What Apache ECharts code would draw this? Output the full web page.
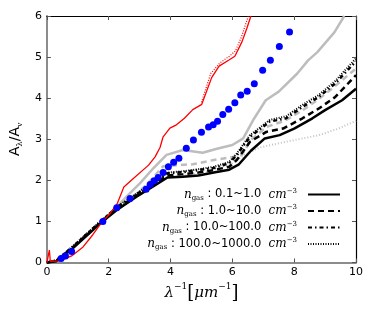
<!DOCTYPE html>
<html><head><meta charset="utf-8">
<script src="https://cdn.jsdelivr.net/npm/echarts@6/dist/echarts.min.js"></script>
<style>html,body{margin:0;padding:0;background:#fff}#c{width:374px;height:312px}</style>
</head><body><div id="c"></div>
<script>
const xTicks = [0, 2, 4, 6, 8, 10];
const yTicks = [0, 1, 2, 3, 4, 5, 6];
const legendNames = ['0.1~1.0', '1.0~10.0', '10.0~100.0', '100.0~1000.0'];

const bluePoints = [[0.46,0.10],[0.60,0.16],[0.80,0.27],[1.81,1.00],[2.26,1.33],[2.69,1.56],[3.21,1.78],[3.34,1.90],[3.47,1.99],[3.60,2.07],[3.76,2.19],[3.93,2.33],[4.10,2.44],[4.27,2.54],[4.51,2.78],[4.74,2.98],[5.00,3.17],[5.23,3.30],[5.38,3.35],[5.52,3.44],[5.69,3.60],[5.88,3.73],[6.08,3.89],[6.27,4.08],[6.48,4.17],[6.71,4.35],[6.98,4.68],[7.23,4.92],[7.52,5.26],[7.85,5.61]];

const redSolid = [[0,0],[0.05,0.02],[0.08,0.30],[0.11,0.03],[0.42,0.04],[0.80,0.16],[1.17,0.38],[1.48,0.67],[1.75,0.95],[2.05,1.20],[2.28,1.44],[2.49,1.84],[2.76,2.02],[3.29,2.37],[3.50,2.57],[3.66,2.80],[3.76,3.06],[3.98,3.27],[4.19,3.35],[4.45,3.51],[4.72,3.72],[5.01,3.85],[5.33,4.50],[5.57,4.78],[5.89,4.93],[6.08,5.02],[6.31,5.37],[6.47,5.70],[6.60,6.0]];
const redDotted = [[5.0,3.9],[5.3,4.6],[5.6,4.86],[5.9,5.02],[6.1,5.15],[6.3,5.5],[6.45,5.85],[6.52,6.0]];

const blackSolid = [[0,0],[0.3,0.03],[0.8,0.32],[1.3,0.66],[1.8,1.0],[2.3,1.3],[2.9,1.6],[3.45,1.86],[3.9,2.07],[4.4,2.09],[4.9,2.12],[5.4,2.19],[5.9,2.26],[6.2,2.38],[6.6,2.72],[7.05,3.02],[7.53,3.10],[8.0,3.26],[8.59,3.51],[9.0,3.71],[9.55,3.95],[10,4.23]];
const blackDashed = [[0,0],[0.3,0.04],[0.8,0.34],[1.3,0.68],[1.8,1.02],[2.3,1.33],[2.9,1.63],[3.45,1.9],[3.9,2.12],[4.4,2.15],[4.9,2.19],[5.4,2.25],[5.9,2.33],[6.15,2.5],[6.57,2.94],[7.1,3.18],[7.64,3.26],[8.27,3.51],[8.8,3.75],[9.33,4.03],[10,4.56]];
const blackDashDot = [[0,0],[0.3,0.05],[0.8,0.36],[1.3,0.7],[1.8,1.04],[2.3,1.36],[2.9,1.66],[3.45,1.94],[3.9,2.17],[4.4,2.2],[4.9,2.25],[5.4,2.3],[5.9,2.42],[6.15,2.62],[6.57,3.06],[7.21,3.43],[7.74,3.51],[8.27,3.79],[8.8,4.03],[9.33,4.36],[10,4.9]];
const blackDotted = [[0,0],[0.3,0.05],[0.8,0.37],[1.3,0.71],[1.8,1.05],[2.3,1.37],[2.9,1.68],[3.45,1.96],[3.9,2.19],[4.4,2.22],[4.9,2.27],[5.4,2.33],[5.9,2.45],[6.15,2.66],[6.57,3.1],[7.21,3.47],[7.74,3.56],[8.27,3.84],[8.8,4.08],[9.33,4.42],[10,4.97]];

const graySolid = [[1.8,1.0],[2.2,1.3],[2.6,1.62],[3.0,1.92],[3.45,2.3],[3.87,2.62],[4.4,2.74],[5.04,2.67],[5.5,2.77],[6.0,2.86],[6.35,3.02],[6.7,3.5],[7.08,3.95],[7.5,4.16],[8.1,4.6],[8.45,4.92],[8.75,5.12],[9.3,5.6],[9.62,6.0]];
const grayDashed = [[1.8,1.0],[2.3,1.32],[2.8,1.6],[3.3,1.95],[3.76,2.34],[4.2,2.37],[4.72,2.39],[5.36,2.49],[6.0,2.57],[6.31,2.62],[6.6,2.98],[7.1,3.3],[7.7,3.45],[8.3,3.72],[8.8,3.98],[9.3,4.28],[10,4.72]];
const grayDotted = [[3.9,2.07],[4.5,2.12],[5.0,2.18],[5.5,2.28],[6.0,2.42],[6.4,2.62],[6.89,2.8],[7.74,2.94],[8.8,3.1],[9.4,3.25],[10,3.45]];

const chart = echarts.init(document.getElementById('c'), null, {renderer: 'canvas'});
const sans = 'DejaVu Sans';
const serif = 'DejaVu Serif';

function lineSeries(name, data, color, width, type, z) {
  return {name: name, type: 'line', data: data, symbol: 'none', smooth: false, z: z,
    lineStyle: {color: color, width: width, type: type}, itemStyle: {color: color}, silent: true, animation: false};
}

const legendRich = {
  n: {fontFamily: serif, fontStyle: 'italic', fontSize: 12, color: '#000', lineHeight: 16, verticalAlign: 'middle'},
  s: {fontFamily: serif, fontSize: 7, color: '#000', lineHeight: 16, verticalAlign: 'bottom', padding: [0,0,1,0]},
  t: {fontFamily: sans, fontSize: 11.5, color: '#000', lineHeight: 16, verticalAlign: 'middle'},
  p: {fontFamily: serif, fontSize: 7, color: '#000', lineHeight: 16, verticalAlign: 'top', padding: [1,0,0,0]}
};
const legendRows = [192.5, 209, 225.5, 242];
const legends = legendNames.map((nm, i) => ({
  data: [nm], right: 28, top: legendRows[i] - 11, orient: 'vertical', align: 'right',
  itemWidth: 32, itemHeight: 16, selectedMode: false,
  itemStyle: {opacity: 0, borderWidth: 0},
  formatter: n => '{n|n}{s|gas}{t| : ' + n + '  }{n|cm}{p|−3}',
  textStyle: {rich: legendRich, padding: [0, 6, 0, 0]}
}));

const option = {
  animation: false,
  grid: {left: 41.7, right: 18, top: 16, bottom: 49.5, containLabel: false},
  legend: legends,
  xAxis: [{
    type: 'value', min: 0, max: 10, interval: 2, position: 'bottom',
    axisLine: {show: true, onZero: false, lineStyle: {color: '#8c8c8c', width: 2}},
    axisTick: {show: true, inside: true, length: 4, lineStyle: {color: '#555'}},
    axisLabel: {color: '#000', fontFamily: sans, fontSize: 11, margin: 4, formatter: v => xTicks.includes(v) ? String(v) : ''},
    splitLine: {show: false},
    name: '{l|λ}{p|−1}{b|[}{m|μm}{p|−1}{b|]}', nameLocation: 'middle', nameGap: 15,
    nameTextStyle: {rich: {
      l: {fontFamily: serif, fontStyle: 'italic', fontSize: 15, color: '#000', lineHeight: 22},
      p: {fontFamily: serif, fontSize: 9, color: '#000', verticalAlign: 'top', lineHeight: 22},
      b: {fontFamily: serif, fontSize: 18, color: '#000', lineHeight: 22},
      m: {fontFamily: serif, fontStyle: 'italic', fontSize: 15, color: '#000', lineHeight: 22}
    }}
  }, {
    type: 'value', min: 0, max: 10, interval: 2, position: 'top',
    axisLine: {show: true, onZero: false, lineStyle: {color: '#000', width: 1.2}},
    axisTick: {show: true, inside: true, length: 4, lineStyle: {color: '#555'}},
    axisLabel: {show: false}, splitLine: {show: false}
  }],
  yAxis: [{
    type: 'value', min: 0, max: 6, interval: 1, position: 'left',
    axisLine: {show: true, onZero: false, lineStyle: {color: '#8c8c8c', width: 2}},
    axisTick: {show: true, inside: true, length: 4, lineStyle: {color: '#555'}},
    axisLabel: {color: '#000', fontFamily: sans, fontSize: 11, margin: 5, formatter: v => yTicks.includes(v) ? String(v) : ''},
    splitLine: {show: false},
    name: '{a|A}{s|λ}{a|/A}{s|v}', nameLocation: 'middle', nameGap: 21, nameRotate: 90,
    nameTextStyle: {rich: {
      a: {fontFamily: sans, fontSize: 14, color: '#000', lineHeight: 18},
      s: {fontFamily: serif, fontSize: 8, color: '#000', verticalAlign: 'bottom', lineHeight: 18}
    }}
  }, {
    type: 'value', min: 0, max: 6, interval: 1, position: 'right',
    axisLine: {show: true, onZero: false, lineStyle: {color: '#000', width: 1.2}},
    axisTick: {show: true, inside: true, length: 4, lineStyle: {color: '#555'}},
    axisLabel: {show: false}, splitLine: {show: false}
  }],
  series: [
    lineSeries('gs', graySolid, '#bdbdbd', 2.5, 'solid', 1),
    lineSeries('gd', grayDashed, '#bdbdbd', 2.5, [6, 4], 1),
    lineSeries('gdot', grayDotted, '#c4c4c4', 2, [1, 2], 1),
    lineSeries(legendNames[3], blackDotted, '#000', 2, [1, 1.5], 2),
    lineSeries(legendNames[2], blackDashDot, '#000', 2.5, [4, 3, 1.5, 3], 2),
    lineSeries(legendNames[1], blackDashed, '#000', 2.5, [6, 4], 2),
    lineSeries(legendNames[0], blackSolid, '#000', 2.5, 'solid', 3),
    lineSeries('rd', redDotted, '#ff0000', 1.2, [1, 1.5], 4),
    lineSeries('r', redSolid, '#ff0000', 1.3, 'solid', 4),
    {name: 'blue', type: 'scatter', data: bluePoints, symbol: 'circle', symbolSize: 7, z: 5,
      itemStyle: {color: '#0000ff', opacity: 1}, silent: true}
  ]
};
chart.setOption(option);
</script></body></html>
